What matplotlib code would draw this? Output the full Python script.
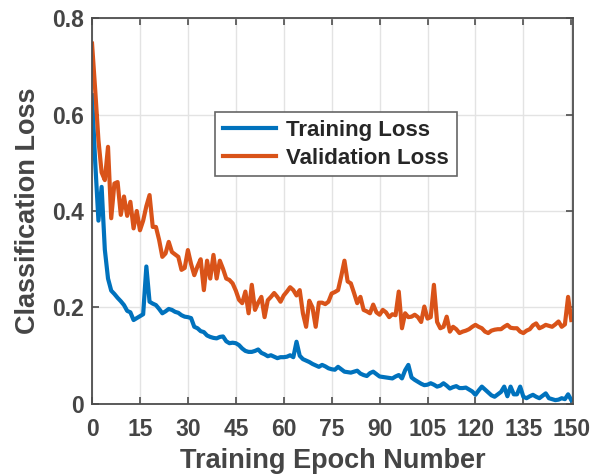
import numpy as np
import matplotlib
matplotlib.use('Agg')
import matplotlib.pyplot as plt

# Valores (época 0..150)
epochs = np.arange(0, 151)
train_loss = [
    0.64, 0.50, 0.38, 0.45, 0.32, 0.26, 0.235, 0.228, 0.220, 0.213,
    0.205, 0.193, 0.190, 0.174, 0.178, 0.182, 0.186, 0.285, 0.212, 0.208,
    0.205, 0.197, 0.188, 0.192, 0.197, 0.195, 0.191, 0.189, 0.184, 0.181,
    0.180, 0.178, 0.160, 0.157, 0.151, 0.149, 0.142, 0.139, 0.137, 0.136,
    0.139, 0.140, 0.130, 0.126, 0.127, 0.126, 0.122, 0.115, 0.110, 0.108,
    0.108, 0.110, 0.113, 0.106, 0.103, 0.099, 0.101, 0.098, 0.095, 0.097,
    0.097, 0.098, 0.101, 0.097, 0.129, 0.100, 0.093, 0.090, 0.087, 0.083,
    0.080, 0.077, 0.081, 0.078, 0.074, 0.072, 0.071, 0.077, 0.072, 0.067,
    0.066, 0.065, 0.067, 0.069, 0.063, 0.060, 0.058, 0.064, 0.067, 0.062,
    0.057, 0.056, 0.055, 0.054, 0.053, 0.057, 0.060, 0.053, 0.070, 0.081,
    0.055, 0.050, 0.046, 0.042, 0.039, 0.040, 0.043, 0.040, 0.036, 0.038,
    0.043, 0.038, 0.032, 0.035, 0.037, 0.033, 0.033, 0.034, 0.030, 0.026,
    0.019, 0.028, 0.036, 0.030, 0.024, 0.018, 0.015, 0.020, 0.025, 0.036,
    0.016, 0.036, 0.020, 0.020, 0.036, 0.015, 0.012, 0.016, 0.019, 0.015,
    0.012, 0.017, 0.022, 0.012, 0.010, 0.008, 0.009, 0.012, 0.010, 0.020,
    0.008,
]
val_loss = [
    0.747, 0.65, 0.547, 0.48, 0.464, 0.533, 0.385, 0.457, 0.46, 0.392,
    0.43, 0.39, 0.419, 0.364, 0.40, 0.36, 0.38, 0.41, 0.433, 0.367,
    0.367, 0.340, 0.305, 0.312, 0.336, 0.315, 0.310, 0.305, 0.278, 0.282,
    0.319, 0.290, 0.267, 0.285, 0.300, 0.236, 0.297, 0.260, 0.309, 0.260,
    0.297, 0.280, 0.260, 0.257, 0.250, 0.235, 0.216, 0.209, 0.233, 0.188,
    0.247, 0.195, 0.210, 0.222, 0.180, 0.215, 0.222, 0.230, 0.222, 0.212,
    0.225, 0.233, 0.242, 0.236, 0.225, 0.236, 0.188, 0.160, 0.214, 0.200,
    0.160, 0.210, 0.210, 0.207, 0.212, 0.229, 0.232, 0.236, 0.265, 0.297,
    0.254, 0.250, 0.230, 0.209, 0.222, 0.195, 0.192, 0.188, 0.206, 0.190,
    0.185, 0.195, 0.190, 0.180, 0.186, 0.184, 0.233, 0.157, 0.188, 0.180,
    0.181, 0.185, 0.180, 0.170, 0.202, 0.177, 0.180, 0.247, 0.170, 0.157,
    0.160, 0.181, 0.150, 0.160, 0.155, 0.147, 0.150, 0.152, 0.155, 0.160,
    0.164, 0.160, 0.157, 0.150, 0.147, 0.152, 0.154, 0.155, 0.155, 0.160,
    0.164, 0.158, 0.157, 0.157, 0.150, 0.147, 0.152, 0.155, 0.163, 0.167,
    0.157, 0.160, 0.164, 0.162, 0.160, 0.165, 0.171, 0.160, 0.165, 0.222,
    0.174,
]
xticks = np.arange(0, 151, 15)
yticks = [0, 0.2, 0.4, 0.6, 0.8]
yticklabels = ['0', '0.2', '0.4', '0.6', '0.8']

plt.rcParams['font.family'] = ['Liberation Sans', 'DejaVu Sans']
gris = '#454545'

fig = plt.figure(figsize=(5.9, 4.74), dpi=100)
ax = fig.add_axes([0.156, 0.1477, 0.815, 0.8143])
ax.plot(epochs, train_loss, color='#0072BD', lw=3.0, label='Training Loss')
ax.plot(epochs, val_loss, color='#D95319', lw=3.0, label='Validation Loss')

ax.set_xlim(0, 150.5)
ax.set_ylim(0, 0.8)
ax.set_xticks(xticks)
ax.set_yticks(yticks)
ax.set_yticklabels(yticklabels)
ax.tick_params(direction='in', top=True, right=True, length=5, width=1.2,
               colors='#4d4d4d', labelcolor=gris, labelsize=16.5)
ax.tick_params(axis='x', pad=10)
ax.tick_params(axis='y', pad=6)
for lab in ax.get_xticklabels() + ax.get_yticklabels():
    lab.set_fontweight('bold')
for s in ax.spines.values():
    s.set_color('#4d4d4d')
    s.set_linewidth(1.3)
ax.grid(True, color='#e3e3e3', lw=1.0)
ax.set_axisbelow(True)

ax.set_xlabel('Training Epoch Number', fontsize=19.5, fontweight='bold',
              color=gris, labelpad=5)
ax.set_ylabel('Classification Loss', fontsize=19.5, fontweight='bold',
              color=gris, labelpad=8)

leg = ax.legend(loc='upper left', bbox_to_anchor=(0.256, 0.756),
                prop={'weight': 'bold', 'size': 16}, borderaxespad=0,
                fancybox=False, framealpha=1, edgecolor='#666666',
                handlelength=2.4, borderpad=0.35, labelspacing=0.3, handletextpad=0.45)
leg.get_frame().set_linewidth(1.2)
for t in leg.get_texts():
    t.set_color('#262626')

fig.savefig('out.png', dpi=100)
